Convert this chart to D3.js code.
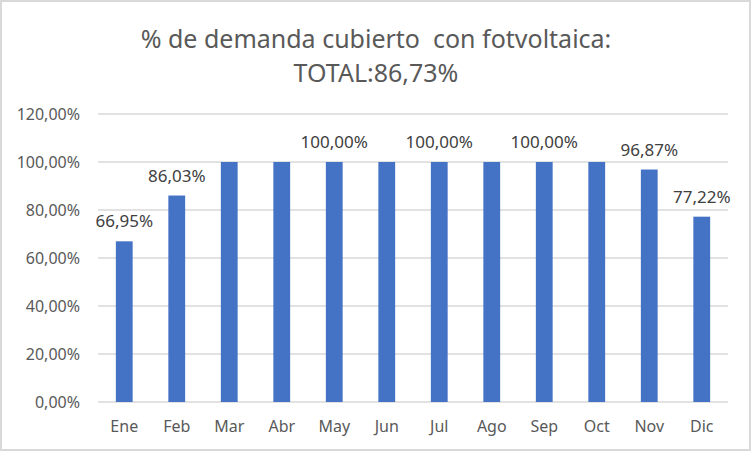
<!DOCTYPE html>
<html><head><meta charset="utf-8">
<script src="https://cdn.jsdelivr.net/npm/d3@7"></script>
<style>body{margin:0;background:#fff}svg{display:block}</style>
</head><body><svg id="c" width="752" height="452"></svg>
<script>
const months = ["Ene","Feb","Mar","Abr","May","Jun","Jul","Ago","Sep","Oct","Nov","Dic"];
const values = [66.95, 86.03, 100, 100, 100, 100, 100, 100, 100, 100, 96.87, 77.22];
const showLabel = [true, true, false, false, true, false, true, false, true, false, true, true];
const yTicks = [0, 20, 40, 60, 80, 100, 120];
const titleLines = ["% de demanda cubierto  con fotvoltaica:", "TOTAL:86,73%"];

const svg = d3.select("#c");
const font = "'Noto Sans', 'Open Sans', sans-serif";
const fmt = v => v.toFixed(2).replace(".", ",") + "%";

svg.append("rect").attr("x",1).attr("y",1).attr("width",749).attr("height",449)
  .attr("fill","#fff").attr("stroke","#d9d9d9").attr("stroke-width",2);

const x = d3.scaleBand().domain(months).range([98, 728]).paddingInner(0.68).paddingOuter(0.34);
const y = d3.scaleLinear().domain([0, 120]).range([402, 114]);

// gridlines
svg.append("g").selectAll("line").data(yTicks).join("line")
  .attr("x1", 98).attr("x2", 728)
  .attr("y1", d => y(d)).attr("y2", d => y(d))
  .attr("stroke", "#d9d9d9").attr("stroke-width", 1.5);

// y axis labels
const ya = svg.append("g").attr("transform","translate(80,0)")
  .call(d3.axisLeft(y).tickValues(yTicks).tickSize(0).tickPadding(0).tickFormat(d => fmt(d)));
ya.select(".domain").remove();
ya.selectAll("text").attr("font-family", font).attr("font-size", 16).attr("fill", "#595959");

// x axis labels
const xa = svg.append("g").attr("transform","translate(0,421)")
  .call(d3.axisBottom(x).tickSize(0).tickPadding(0));
xa.select(".domain").remove();
xa.selectAll("text").attr("font-family", font).attr("font-size", 16).attr("fill", "#595959");

// bars
svg.append("g").selectAll("rect").data(values).join("rect")
  .attr("x", (d,i) => x(months[i]))
  .attr("width", x.bandwidth())
  .attr("y", d => y(d))
  .attr("height", d => y(0) - y(d))
  .attr("fill", "#4472c4");

// data labels
svg.append("g").selectAll("text").data(values.map((v,i)=>({v,i})).filter(d => showLabel[d.i])).join("text")
  .attr("x", d => x(months[d.i]) + x.bandwidth()/2)
  .attr("y", d => y(d.v) - 14)
  .attr("text-anchor", "middle")
  .attr("font-family", font).attr("font-size", 17).attr("fill", "#404040")
  .text(d => fmt(d.v));

// title
svg.append("g").selectAll("text").data(titleLines).join("text")
  .attr("x", 376).attr("y", (d,i) => 48 + i*34)
  .attr("text-anchor", "middle")
  .attr("font-family", font).attr("font-size", 25).attr("fill", "#595959")
  .style("white-space","pre").attr("xml:space","preserve")
  .text(d => d);
</script></body></html>
